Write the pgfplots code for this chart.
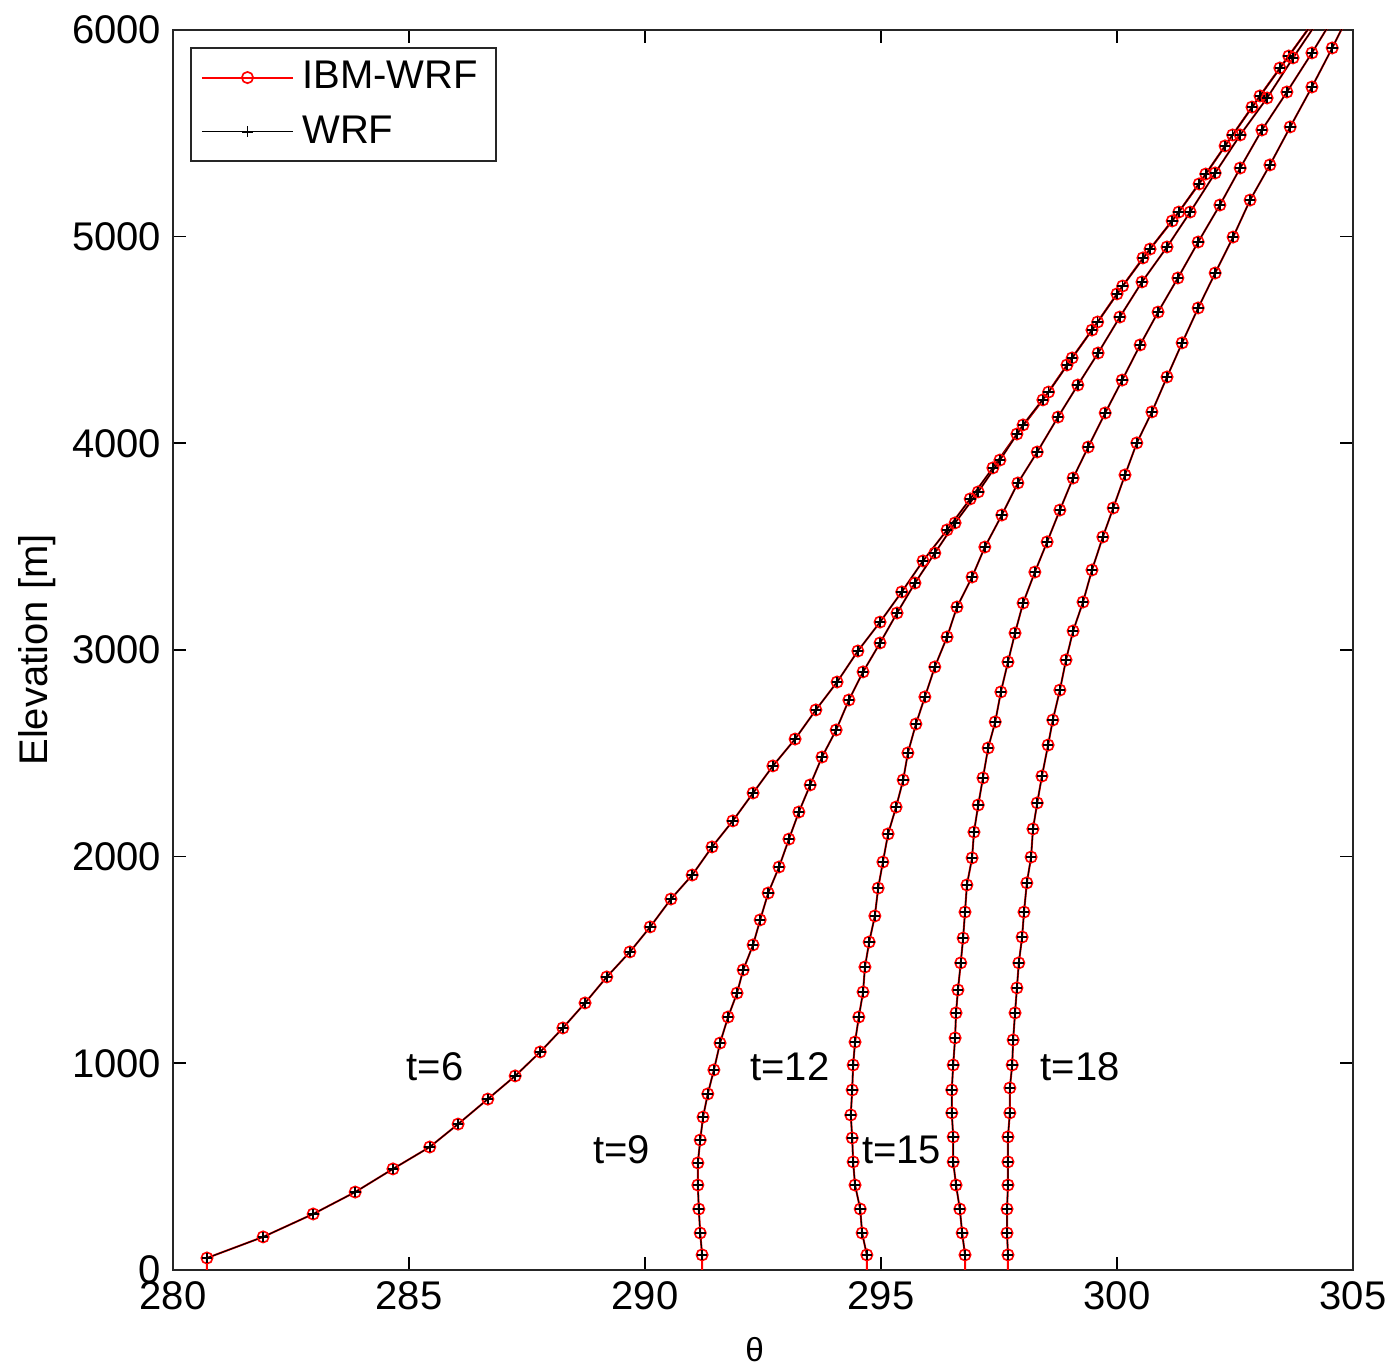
\documentclass[border=0pt]{standalone}
\usepackage{pgfplots}
\usepackage{pgfplotstable}
\pgfplotsset{compat=1.18}
\usepackage{fontspec}
\setmainfont{Liberation Sans}

\pgfplotstableread{
x z
280.72 -60
280.72 58
281.91 160
282.97 271
283.86 377
284.66 489
285.44 595
286.04 706
286.67 827
287.25 939
287.78 1055
288.26 1171
288.73 1292
289.19 1418
289.68 1539
290.11 1660
290.55 1795
291.00 1911
291.42 2047
291.86 2173
292.29 2308
292.71 2439
293.18 2569
293.62 2710
294.07 2845
294.51 2995
294.98 3135
295.44 3281
295.89 3431
296.40 3581
296.89 3731
297.37 3881
297.88 4045
298.43 4210
298.94 4379
299.47 4548
300.00 4723
300.55 4897
301.17 5076
301.74 5255
302.29 5439
302.86 5627
303.45 5816
304.07 6010
}\tsix

\pgfplotstableread{
x z
291.21 -60
291.21 73
291.17 179
291.14 295
291.12 411
291.12 518
291.17 629
291.23 740
291.33 852
291.46 968
291.59 1098
291.76 1224
291.95 1340
292.08 1452
292.29 1573
292.44 1694
292.61 1824
292.84 1950
293.05 2085
293.26 2216
293.50 2347
293.75 2482
294.05 2613
294.32 2758
294.62 2894
294.98 3034
295.34 3179
295.72 3324
296.14 3469
296.57 3615
297.06 3765
297.52 3919
298.01 4089
298.55 4248
299.05 4413
299.59 4587
300.12 4761
300.70 4940
301.31 5119
301.88 5303
302.45 5492
303.03 5681
303.64 5874
304.25 6068
}\tnine

\pgfplotstableread{
x z
294.70 -60
294.70 73
294.60 179
294.56 295
294.45 411
294.41 523
294.39 639
294.36 750
294.39 871
294.41 992
294.45 1103
294.53 1224
294.62 1345
294.66 1466
294.75 1587
294.87 1713
294.94 1848
295.04 1974
295.15 2110
295.32 2240
295.47 2371
295.57 2502
295.74 2642
295.93 2773
296.14 2918
296.40 3063
296.61 3208
296.93 3353
297.20 3498
297.56 3653
297.90 3808
298.31 3958
298.75 4127
299.17 4282
299.60 4437
300.06 4611
300.53 4781
301.06 4950
301.55 5119
302.08 5308
302.61 5492
303.18 5671
303.73 5865
304.30 6058
}\ttwelve

\pgfplotstableread{
x z
296.78 -60
296.78 73
296.72 179
296.67 295
296.59 411
296.53 523
296.53 644
296.50 760
296.50 871
296.53 992
296.57 1123
296.59 1244
296.63 1355
296.69 1486
296.74 1606
296.78 1732
296.82 1863
296.93 1994
296.97 2119
297.06 2250
297.16 2381
297.27 2526
297.42 2652
297.54 2797
297.69 2942
297.84 3082
298.01 3227
298.26 3377
298.52 3523
298.79 3677
299.07 3832
299.39 3982
299.75 4147
300.11 4306
300.49 4476
300.87 4635
301.29 4800
301.72 4974
302.18 5153
302.61 5332
303.07 5516
303.60 5700
304.13 5889
304.66 6087
}\tfifteen

\pgfplotstableread{
x z
297.69 -60
297.69 73
297.67 179
297.67 295
297.69 411
297.69 523
297.69 644
297.73 760
297.73 881
297.78 992
297.80 1113
297.84 1244
297.88 1365
297.92 1486
297.99 1611
298.03 1732
298.09 1873
298.18 1998
298.22 2134
298.31 2260
298.41 2390
298.54 2540
298.64 2661
298.79 2806
298.92 2952
299.07 3092
299.28 3232
299.47 3387
299.70 3547
299.92 3687
300.17 3847
300.42 4002
300.74 4152
301.06 4321
301.38 4486
301.72 4655
302.08 4824
302.46 4998
302.82 5177
303.24 5347
303.67 5531
304.13 5724
304.56 5913
304.98 6106
}\teighteen

\pgfplotsset{
  ibm/.style={color=red, line width=0.6pt, mark=o, mark size=1.7pt,
    mark options={solid, line width=0.5pt}},
  wrf/.style={color=black, line width=0.35pt, mark=+, mark size=1.6pt,
    mark options={solid, line width=0.5pt}, skip coords between index={0}{1}},
}

\begin{document}
\begin{tikzpicture}
\begin{axis}[
  name=ax,
  scale only axis,
  width=354pt, height=372pt,
  xmin=280, xmax=305, ymin=0, ymax=6000,
  xtick={280,285,...,305},
  ytick={0,1000,...,6000},
  scaled ticks=false,
  /pgf/number format/1000 sep={},
  /pgf/number format/assume math mode=true,
  tick label style={font=\fontsize{12}{14}\selectfont},
  tick align=inside,
  tick pos=both,
  major tick length=3.9pt,
  major tick style={line width=0.5pt, black},
  axis line style={line width=0.6pt, black!85},
  xlabel={θ},
  every axis x label/.style={at={(axis description cs:0.493,-0.0645)}, anchor=center,
    font=\fontsize{10}{12}\selectfont},
  ylabel={Elevation [m]},
  every axis y label/.style={at={(axis description cs:-0.1153,0.5)}, rotate=90, anchor=center,
    font=\fontsize{12}{14}\selectfont},
  legend image code/.code={\draw[mark repeat=2,mark phase=2] plot coordinates {(0pt,0pt) (13.65pt,0pt) (27.3pt,0pt)};},
  legend style={at={(0,1)}, anchor=north west, xshift=5.1pt, yshift=-5.1pt,
    draw=black!85, line width=0.6pt, font=\fontsize{12}{14}\selectfont,
    inner xsep=3pt, inner ysep=1.5pt, row sep=1.5pt,
    nodes={inner sep=2.5pt}},
  legend cell align=left,
]
\addplot[ibm] table[x=x,y=z] {\tsix};
\addlegendentry{IBM-WRF}
\addplot[wrf] table[x=x,y=z] {\tsix};
\addlegendentry{WRF}

\addplot[ibm, forget plot] table[x=x,y=z] {\tnine};
\addplot[wrf, forget plot] table[x=x,y=z] {\tnine};
\addplot[ibm, forget plot] table[x=x,y=z] {\ttwelve};
\addplot[wrf, forget plot] table[x=x,y=z] {\ttwelve};
\addplot[ibm, forget plot] table[x=x,y=z] {\tfifteen};
\addplot[wrf, forget plot] table[x=x,y=z] {\tfifteen};
\addplot[ibm, forget plot] table[x=x,y=z] {\teighteen};
\addplot[wrf, forget plot] table[x=x,y=z] {\teighteen};

\node[font=\fontsize{12}{14}\selectfont] at (axis cs:285.55,982) {t=6};
\node[font=\fontsize{12}{14}\selectfont] at (axis cs:289.51,581) {t=9};
\node[font=\fontsize{12}{14}\selectfont] at (axis cs:293.07,982) {t=12};
\node[font=\fontsize{12}{14}\selectfont] at (axis cs:295.44,581) {t=15};
\node[font=\fontsize{12}{14}\selectfont] at (axis cs:299.22,982) {t=18};
\end{axis}
\pgfresetboundingbox
\path ([shift={(-51.9pt,-30pt)}]ax.south west) rectangle ([shift={(12pt,9pt)}]ax.north east);
\end{tikzpicture}
\end{document}
